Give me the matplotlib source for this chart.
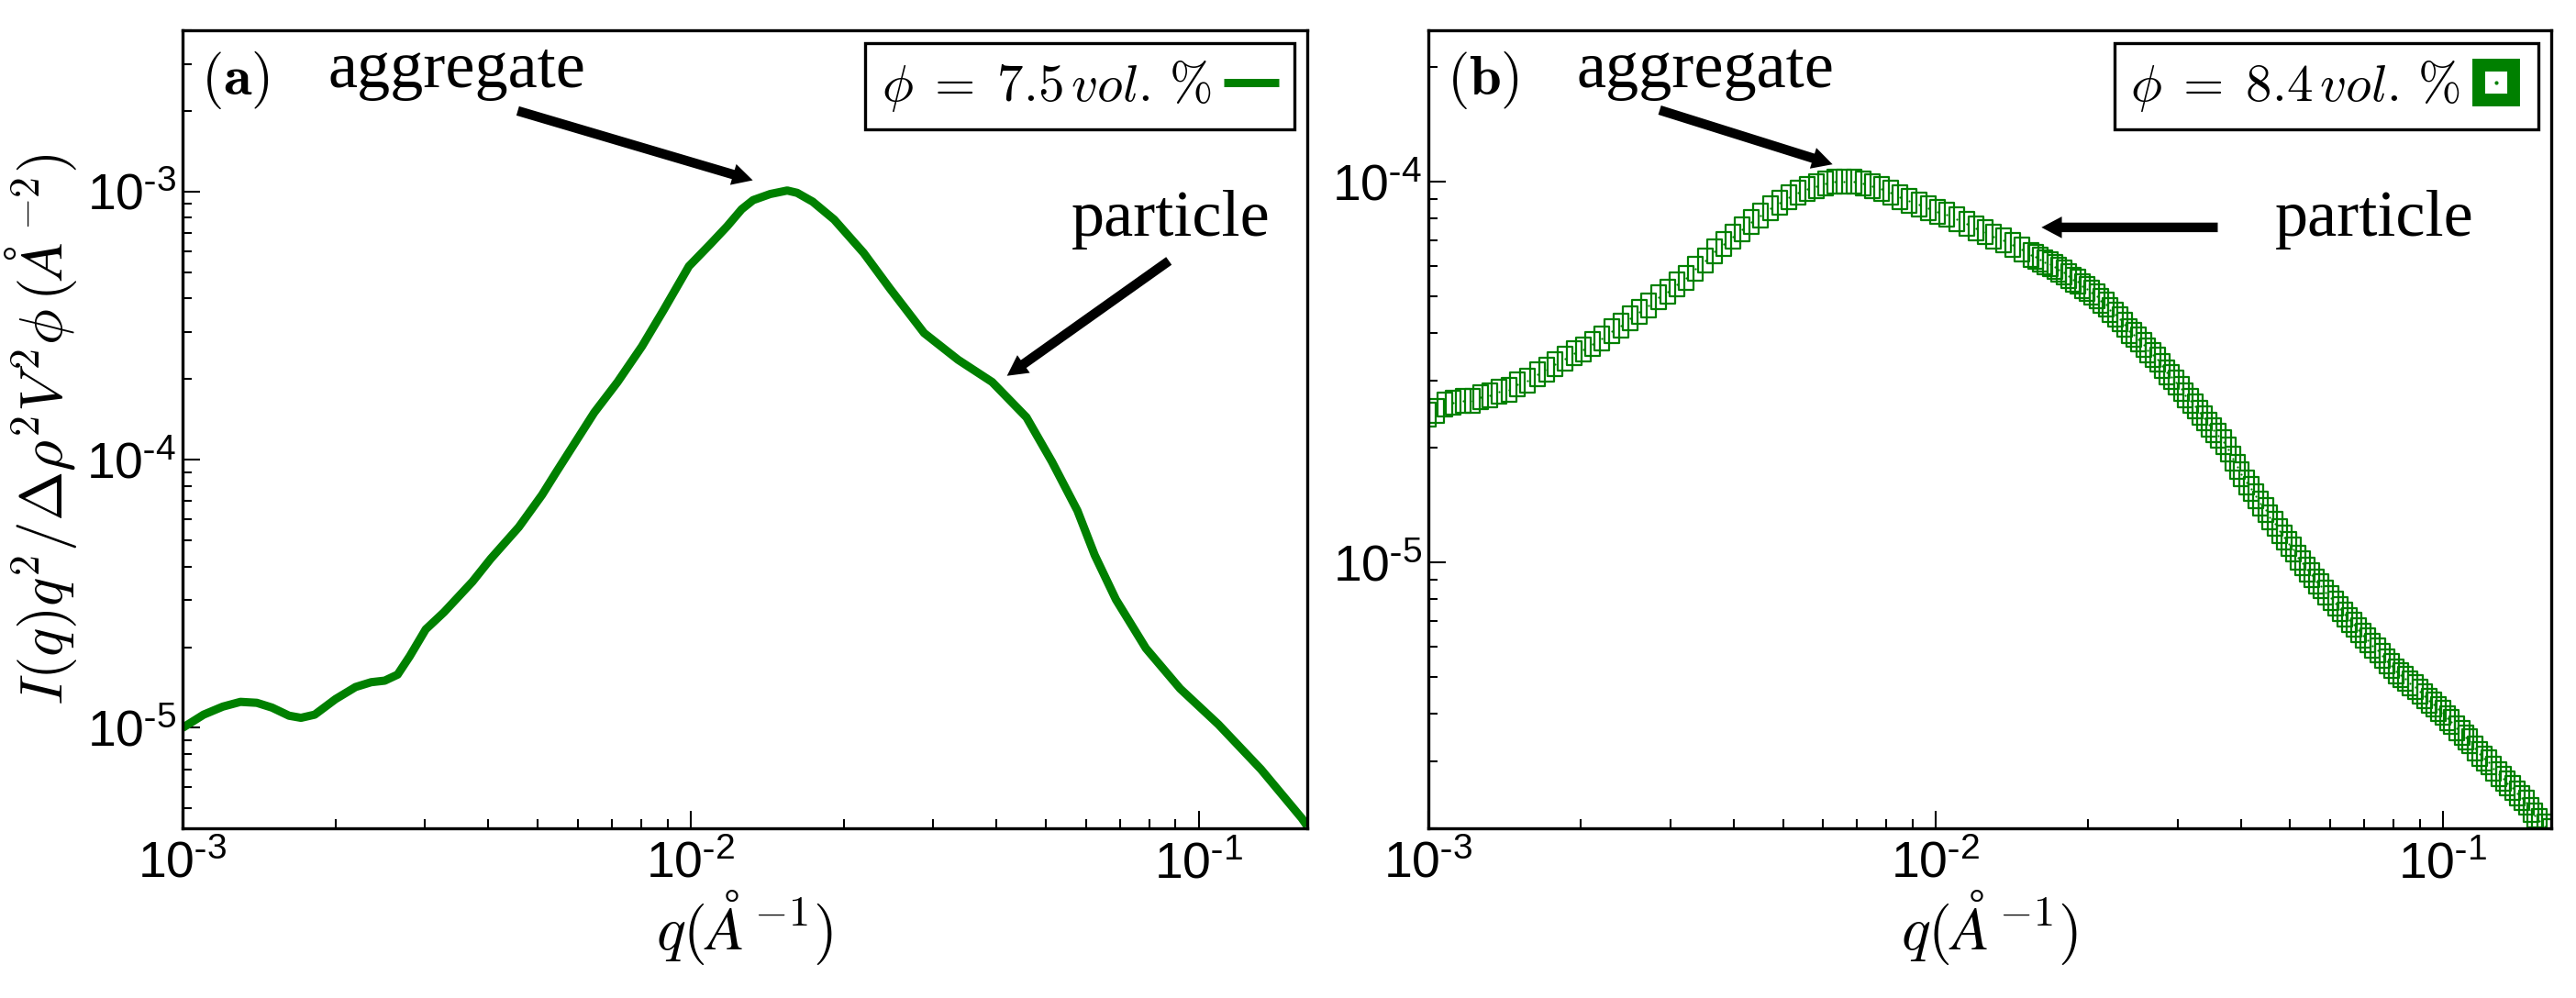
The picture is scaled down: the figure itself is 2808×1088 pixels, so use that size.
import numpy as np
import matplotlib
matplotlib.use("Agg")
import matplotlib.pyplot as plt
from matplotlib.path import Path
from matplotlib.lines import Line2D
from matplotlib.ticker import LogLocator, FuncFormatter, NullFormatter

# ---------------- data ----------------
# panel (a): phi = 7.5 vol.%  (continuous line)
q_a = [1.00e-3, 1.10e-3, 1.20e-3, 1.30e-3, 1.40e-3, 1.50e-3, 1.62e-3, 1.71e-3,
       1.82e-3, 2.00e-3, 2.19e-3, 2.35e-3, 2.50e-3, 2.65e-3, 2.80e-3, 3.01e-3,
       3.27e-3, 3.72e-3, 4.04e-3, 4.59e-3, 5.10e-3, 5.44e-3, 6.46e-3, 7.18e-3,
       8.02e-3, 8.84e-3, 9.92e-3, 1.094e-2, 1.18e-2, 1.26e-2, 1.327e-2, 1.434e-2,
       1.549e-2, 1.62e-2, 1.738e-2, 1.916e-2, 2.19e-2, 2.465e-2, 2.88e-2, 3.36e-2,
       3.92e-2, 4.58e-2, 5.14e-2, 5.77e-2, 6.24e-2, 6.87e-2, 7.87e-2, 9.19e-2,
       1.093e-1, 1.326e-1, 1.595e-1, 1.635e-1]
I_a = [1.00e-5, 1.12e-5, 1.20e-5, 1.25e-5, 1.24e-5, 1.19e-5, 1.11e-5, 1.09e-5,
       1.12e-5, 1.28e-5, 1.42e-5, 1.48e-5, 1.50e-5, 1.58e-5, 1.85e-5, 2.33e-5,
       2.70e-5, 3.51e-5, 4.27e-5, 5.61e-5, 7.40e-5, 9.00e-5, 1.50e-4, 1.95e-4,
       2.65e-4, 3.61e-4, 5.27e-4, 6.38e-4, 7.43e-4, 8.60e-4, 9.30e-4, 9.80e-4,
       1.01e-3, 9.90e-4, 9.18e-4, 7.87e-4, 5.91e-4, 4.36e-4, 2.97e-4, 2.36e-4,
       1.95e-4, 1.44e-4, 9.84e-5, 6.46e-5, 4.41e-5, 3.01e-5, 1.98e-5, 1.40e-5,
       1.03e-5, 7.00e-6, 4.60e-6, 4.30e-6]

# panel (b): phi = 8.4 vol.%  (open square symbols)
q_b = [1.00e-3, 1.04e-3, 1.08e-3, 1.12e-3, 1.17e-3, 1.22e-3, 1.27e-3, 1.32e-3,
       1.38e-3, 1.44e-3, 1.50e-3, 1.57e-3, 1.64e-3, 1.71e-3, 1.78e-3, 1.86e-3,
       1.94e-3, 2.02e-3, 2.11e-3, 2.20e-3, 2.30e-3, 2.40e-3, 2.50e-3, 2.61e-3,
       2.72e-3, 2.84e-3, 2.96e-3, 3.09e-3, 3.22e-3, 3.36e-3, 3.51e-3, 3.66e-3,
       3.82e-3, 3.98e-3, 4.15e-3, 4.33e-3, 4.52e-3, 4.72e-3, 4.92e-3, 5.13e-3,
       5.35e-3, 5.58e-3, 5.82e-3, 6.07e-3, 6.33e-3, 6.60e-3, 6.89e-3, 7.19e-3,
       7.50e-3, 7.82e-3, 8.16e-3, 8.51e-3, 8.88e-3, 9.26e-3, 9.66e-3,
       1.01e-2, 1.05e-2, 1.10e-2, 1.15e-2, 1.20e-2, 1.25e-2, 1.30e-2, 1.36e-2,
       1.42e-2, 1.48e-2, 1.54e-2, 1.575e-2, 1.61e-2, 1.645e-2, 1.68e-2, 1.715e-2,
       1.75e-2, 1.79e-2, 1.83e-2, 1.87e-2, 1.91e-2, 1.95e-2, 1.99e-2, 2.03e-2,
       2.08e-2, 2.12e-2, 2.17e-2, 2.21e-2, 2.26e-2, 2.31e-2, 2.36e-2, 2.41e-2,
       2.46e-2, 2.51e-2, 2.57e-2, 2.62e-2, 2.68e-2, 2.74e-2, 2.80e-2, 2.86e-2,
       2.92e-2, 2.98e-2, 3.05e-2, 3.11e-2, 3.18e-2, 3.25e-2, 3.32e-2, 3.39e-2,
       3.46e-2, 3.53e-2, 3.61e-2, 3.69e-2, 3.77e-2, 3.85e-2, 3.93e-2, 4.01e-2,
       4.10e-2, 4.19e-2, 4.28e-2, 4.37e-2, 4.47e-2, 4.56e-2, 4.66e-2, 4.76e-2,
       4.86e-2, 4.96e-2, 5.07e-2, 5.18e-2, 5.29e-2, 5.40e-2, 5.52e-2, 5.64e-2,
       5.76e-2, 5.88e-2, 6.01e-2, 6.14e-2, 6.27e-2, 6.40e-2, 6.54e-2, 6.68e-2,
       6.83e-2, 6.97e-2, 7.12e-2, 7.27e-2, 7.43e-2, 7.59e-2, 7.75e-2, 7.92e-2,
       8.09e-2, 8.26e-2, 8.44e-2, 8.62e-2, 8.81e-2, 9.00e-2, 9.19e-2, 9.39e-2,
       9.59e-2, 9.80e-2, 0.100, 0.102, 0.104, 0.1065, 0.109, 0.111, 0.113,
       0.1155, 0.118, 0.1205, 0.123, 0.126, 0.129, 0.1315, 0.134, 0.137, 0.140,
       0.143, 0.146, 0.149, 0.152, 0.155, 0.159, 0.163]
I_b = [2.45e-5, 2.50e-5, 2.60e-5, 2.62e-5, 2.66e-5, 2.66e-5, 2.72e-5, 2.74e-5,
       2.80e-5, 2.84e-5, 2.93e-5, 3.00e-5, 3.12e-5, 3.20e-5, 3.31e-5, 3.42e-5,
       3.54e-5, 3.62e-5, 3.74e-5, 3.87e-5, 4.04e-5, 4.18e-5, 4.37e-5, 4.55e-5,
       4.74e-5, 4.98e-5, 5.15e-5, 5.38e-5, 5.60e-5, 5.90e-5, 6.22e-5, 6.55e-5,
       6.86e-5, 7.18e-5, 7.50e-5, 7.82e-5, 8.15e-5, 8.50e-5, 8.82e-5, 9.08e-5,
       9.35e-5, 9.55e-5, 9.75e-5, 9.88e-5, 9.98e-5, 1.00e-4, 1.00e-4, 9.90e-5,
       9.72e-5, 9.55e-5, 9.35e-5, 9.12e-5, 8.92e-5, 8.72e-5, 8.52e-5,
       8.35e-5, 8.18e-5, 7.98e-5, 7.75e-5, 7.55e-5, 7.38e-5, 7.18e-5, 7.00e-5,
       6.82e-5, 6.62e-5, 6.42e-5, 6.35e-5, 6.25e-5, 6.14e-5, 6.08e-5, 5.96e-5,
       5.88e-5, 5.78e-5, 5.65e-5, 5.53e-5, 5.45e-5, 5.32e-5, 5.22e-5, 5.12e-5,
       5.00e-5, 4.86e-5, 4.75e-5, 4.60e-5, 4.48e-5, 4.36e-5, 4.22e-5, 4.06e-5,
       3.95e-5, 3.85e-5, 3.72e-5, 3.60e-5, 3.50e-5, 3.40e-5, 3.28e-5, 3.16e-5,
       3.06e-5, 2.97e-5, 2.86e-5, 2.74e-5, 2.66e-5, 2.57e-5, 2.47e-5, 2.39e-5,
       2.30e-5, 2.22e-5, 2.15e-5, 2.07e-5, 1.98e-5, 1.87e-5, 1.78e-5, 1.70e-5,
       1.62e-5, 1.56e-5, 1.49e-5, 1.43e-5, 1.37e-5, 1.31e-5, 1.26e-5, 1.21e-5,
       1.16e-5, 1.12e-5, 1.08e-5, 1.03e-5, 9.95e-6, 9.58e-6, 9.25e-6, 8.92e-6,
       8.65e-6, 8.33e-6, 8.05e-6, 7.78e-6, 7.55e-6, 7.28e-6, 7.05e-6, 6.85e-6,
       6.62e-6, 6.42e-6, 6.25e-6, 6.05e-6, 5.88e-6, 5.68e-6, 5.50e-6, 5.35e-6,
       5.18e-6, 5.05e-6, 4.95e-6, 4.82e-6, 4.70e-6, 4.57e-6, 4.45e-6, 4.33e-6,
       4.22e-6, 4.12e-6, 4.02e-6, 3.90e-6, 3.80e-6, 3.67e-6, 3.56e-6, 3.47e-6,
       3.38e-6, 3.25e-6, 3.13e-6, 3.05e-6, 2.98e-6, 2.87e-6, 2.78e-6, 2.70e-6,
       2.62e-6, 2.55e-6, 2.47e-6, 2.40e-6, 2.33e-6, 2.24e-6, 2.16e-6, 2.09e-6,
       2.02e-6, 1.97e-6]

label_a = r'$\phi\;=\;7.5\,vol.\,\%$'
label_b = r'$\phi\;=\;8.4\,vol.\,\%$'
xlim = (1e-3, 0.1635)
ylim_a = (4.22e-6, 4.0e-3)
ylim_b = (2.0e-6, 2.5e-4)

# ---------------- style ----------------
plt.rcParams['mathtext.fontset'] = 'cm'
plt.rcParams['font.family'] = ['Liberation Sans', 'DejaVu Sans']
GREEN = '#008000'
W, H = 2808, 1088

fig = plt.figure(figsize=(W / 100, H / 100), dpi=100)
axA = fig.add_axes([199 / W, (H - 903) / H, 1226 / W, 870 / H])
axB = fig.add_axes([1557 / W, (H - 903) / H, 1224 / W, 870 / H])


def pow_fmt(v, pos):
    e = int(round(np.log10(v)))
    return r'$\mathregular{10^{\text{-}%d}}$' % (-e)


for ax, yl in ((axA, ylim_a), (axB, ylim_b)):
    ax.set_xscale('log')
    ax.set_yscale('log')
    ax.set_xlim(*xlim)
    ax.set_ylim(*yl)
    for s in ax.spines.values():
        s.set_linewidth(2.4)
    for axis in (ax.xaxis, ax.yaxis):
        axis.set_major_locator(LogLocator(base=10, numticks=20))
        axis.set_minor_locator(LogLocator(base=10, subs=np.arange(2, 10), numticks=20))
        axis.set_major_formatter(FuncFormatter(pow_fmt))
        axis.set_minor_formatter(NullFormatter())
    ax.tick_params(which='both', direction='in', top=False, right=False, width=1.5)
    ax.tick_params(which='major', length=13.5, labelsize=40)
    ax.tick_params(which='minor', length=7.5)
    ax.tick_params(axis='y', which='major', pad=5)
    ax.tick_params(axis='x', which='major', pad=10)
    ax.set_xlabel(r'$q(\AA^{-1})$', fontsize=48)
    ax.xaxis.set_label_coords(0.5, -0.075)

# panel (a) curve
axA.plot(q_a, I_a, color=GREEN, lw=6.5, solid_capstyle='butt',
         solid_joinstyle='round', label=label_a)
axA.set_ylabel(r'$I(q)q^2/\Delta\rho^2V^2\phi\,(\AA^{-2})$', fontsize=47)
axA.yaxis.set_label_coords(-0.092, 0.5)

# panel (b) symbols: tall open rectangles with centre dot
rect = Path([(-0.32, -0.5), (0.32, -0.5), (0.32, 0.5), (-0.32, 0.5), (-0.32, -0.5)],
            [Path.MOVETO, Path.LINETO, Path.LINETO, Path.LINETO, Path.CLOSEPOLY])
axB.plot(q_b, I_b, ls='none', marker=rect, ms=19, mew=1.6, mfc='none', mec=GREEN)
axB.plot(q_b, I_b, ls='none', marker='o', ms=1.6, mew=0, color=GREEN)

# legends
legA = axA.legend(loc='upper right', bbox_to_anchor=(0.9886, 0.984), borderaxespad=0,
                  markerfirst=False, fontsize=41, handlelength=1.05, handletextpad=0.25,
                  borderpad=0.3, fancybox=False, edgecolor='black', framealpha=1)
legA.get_frame().set_linewidth(2.4)

h_sq = Line2D([], [], ls='none', marker='s', ms=28, mew=10, mfc='white', mec=GREEN)
h_dot = Line2D([], [], ls='none', marker='o', ms=3, mew=0, color=GREEN)
legB = axB.legend([(h_sq, h_dot)], [label_b], loc='upper right',
                  bbox_to_anchor=(0.9886, 0.984), borderaxespad=0, markerfirst=False,
                  fontsize=41, handlelength=1.0, handletextpad=0.2, borderpad=0.3,
                  fancybox=False, edgecolor='black', framealpha=1)
legB.get_frame().set_linewidth(2.4)

# panel letters and annotations
serif = ['Liberation Serif', 'DejaVu Serif']
arrow = dict(width=7.5, headwidth=17, headlength=16, lw=0, facecolor='black',
             shrink=0)
for ax, letter, agg_x, agg_tail, agg_tip, par_x, par_tail, par_tip in (
        (axA, r'$(\mathbf{a})$', 0.129, (0.298, 0.899), (0.507, 0.812),
         0.790, (0.877, 0.711), (0.733, 0.567)),
        (axB, r'$(\mathbf{b})$', 0.132, (0.206, 0.900), (0.360, 0.832),
         0.754, (0.703, 0.753), (0.546, 0.753))):
    ax.text(0.016, 0.937, letter, transform=ax.transAxes, fontsize=45, va='center')
    ax.text(agg_x, 0.929, 'aggregate', transform=ax.transAxes, fontsize=52,
            family=serif, va='baseline')
    ax.text(par_x, 0.7425, 'particle', transform=ax.transAxes, fontsize=52,
            family=serif, va='baseline')
    ax.annotate('', xy=agg_tip, xytext=agg_tail, xycoords='axes fraction',
                textcoords='axes fraction', arrowprops=arrow)
    ax.annotate('', xy=par_tip, xytext=par_tail, xycoords='axes fraction',
                textcoords='axes fraction', arrowprops=arrow)

fig.savefig('out.png', dpi=100)
